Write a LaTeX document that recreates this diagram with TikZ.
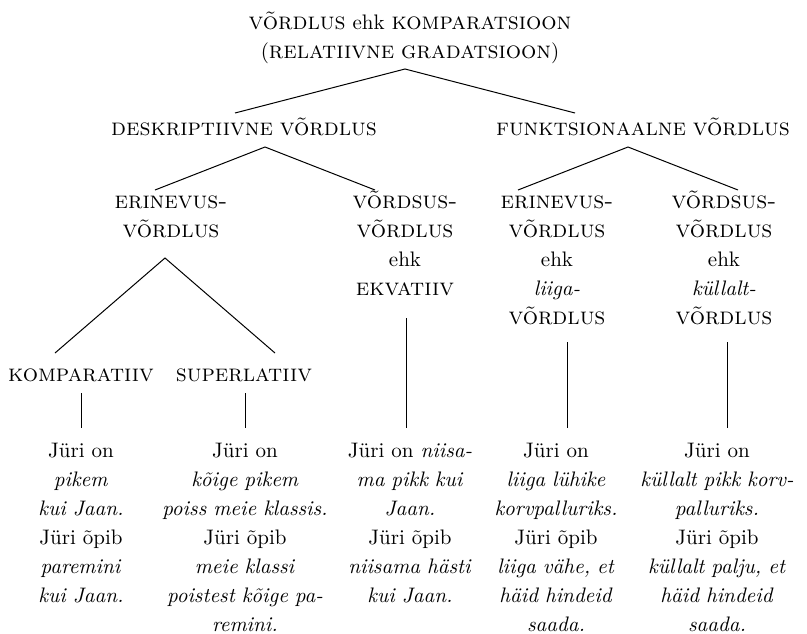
\documentclass[tikz,border=0pt]{standalone}
\usepackage{fontspec}
\usetikzlibrary{calc}
\newcommand{\kapit}[1]{{\fontsize{12}{14.5}\selectfont\addfontfeature{LetterSpace=13}\scshape #1}}

\begin{document}
\begin{tikzpicture}[
x=0.5pt, y=-0.5pt,
treenode/.style={text width=110pt, align=center, anchor=base, inner sep=0pt,
                 font=\fontsize{10.5}{14.5}\selectfont},
widenode/.style={treenode, text width=250pt},
treeline/.style={draw=black, line width=0.5pt},
]
\useasboundingbox (0,0) rectangle (807,633);

%Nodes
\node[widenode] (root_node) at (410,29) {\kapit{võrdlus} ehk \kapit{komparatsioon}\\(\kapit{relatiivne gradatsioon})};

\node[widenode] (desk_node) at (244,135) {\kapit{deskriptiivne võrdlus}};
\node[widenode] (funk_node) at (643,135) {\kapit{funktsionaalne võrdlus}};

\node[treenode] (desk_erin_node) at (171,208) {\kapit{erinevus-}\\\kapit{võrdlus}};
\node[treenode] (desk_vord_node) at (405,208) {\kapit{võrdsus-}\\\kapit{võrdlus}\\ehk\\\kapit{ekvatiiv}};
\node[treenode] (funk_erin_node) at (557,208) {\kapit{erinevus-}\\\kapit{võrdlus}\\ehk\\\textit{liiga-}\\\kapit{võrdlus}};
\node[treenode] (funk_vord_node) at (724,208) {\kapit{võrdsus-}\\\kapit{võrdlus}\\ehk\\\textit{küllalt-}\\\kapit{võrdlus}};

\node[treenode] (komp_node) at (81,381) {\kapit{komparatiiv}};
\node[treenode] (superl_node) at (244,381) {\kapit{superlatiiv}};

\node[treenode] (komp_ex) at (81,457) {Jüri on\\\textit{pikem}\\\textit{kui Jaan.}\\Jüri õpib\\\textit{paremini}\\\textit{kui Jaan.}};
\node[treenode] (superl_ex) at (245,457) {Jüri on\\\textit{kõige pikem}\\\textit{poiss meie klassis.}\\Jüri õpib\\\textit{meie klassi}\\\textit{poistest kõige pa-}\\\textit{remini.}};
\node[treenode] (ekv_ex) at (410,457) {Jüri on \textit{niisa-}\\\textit{ma pikk kui}\\\textit{Jaan.}\\Jüri õpib\\\textit{niisama hästi}\\\textit{kui Jaan.}};
\node[treenode] (liiga_ex) at (556,457) {Jüri on\\\textit{liiga lühike}\\\textit{korvpalluriks.}\\Jüri õpib\\\textit{liiga vähe, et}\\\textit{häid hindeid}\\\textit{saada.}};
\node[treenode] (kyllalt_ex) at (717,457) {Jüri on\\\textit{küllalt pikk korv-}\\\textit{palluriks.}\\Jüri õpib\\\textit{küllalt palju, et}\\\textit{häid hindeid}\\\textit{saada.}};

%Lines
\draw[treeline] ($(desk_node.base)+(-9,-22)$) -- ($(root_node.base)+(-5,40)$) -- ($(funk_node.base)+(-68,-22)$);
\draw[treeline] ($(desk_erin_node.base)+(-16,-18)$) -- ($(desk_node.base)+(21,12)$) -- ($(desk_vord_node.base)+(-30,-18)$);
\draw[treeline] ($(funk_erin_node.base)+(-39,-18)$) -- ($(funk_node.base)+(-15,12)$) -- ($(funk_vord_node.base)+(14,-18)$);
\draw[treeline] ($(komp_node.base)+(-26,-28)$) -- ($(desk_erin_node.base)+(-6,50)$) -- ($(superl_node.base)+(31,-28)$);

\draw[treeline] ($(komp_node.base)+(0,12)$) -- ($(komp_ex.base)+(0,-29)$);
\draw[treeline] ($(superl_node.base)+(1,12)$) -- ($(superl_ex.base)+(0,-29)$);
\draw[treeline] ($(desk_vord_node.base)+(1,110)$) -- ($(ekv_ex.base)+(-4,-29)$);
\draw[treeline] ($(funk_erin_node.base)+(10,134)$) -- ($(liiga_ex.base)+(11,-29)$);
\draw[treeline] ($(funk_vord_node.base)+(3,134)$) -- ($(kyllalt_ex.base)+(10,-29)$);

\end{tikzpicture}
\end{document}
